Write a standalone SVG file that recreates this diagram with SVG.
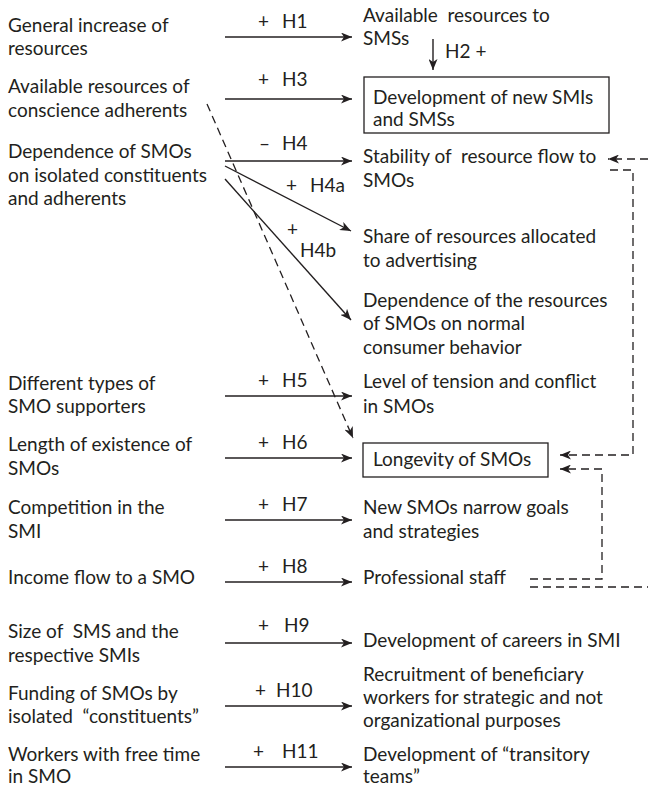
<svg xmlns="http://www.w3.org/2000/svg" width="648" height="787" viewBox="0 0 648 787">
  <style>
    text { font-family: Lato, "Open Sans", "Liberation Sans", sans-serif; font-size: 19px; fill: #231f20; }
    .ln { stroke: #231f20; stroke-width: 1.4; fill: none; }
    .dash { stroke: #231f20; stroke-width: 1.3; fill: none; stroke-dasharray: 8 5; }
    .box { stroke: #231f20; stroke-width: 1.3; fill: #fff; }
  </style>
  <defs>
    <marker id="arr" markerUnits="userSpaceOnUse" markerWidth="12" markerHeight="9" refX="11" refY="4.5" orient="auto">
      <path d="M0,0 L11,4.5 L0,9 L3,4.5 z" fill="#231f20"/>
    </marker>
  </defs>
  <rect width="648" height="787" fill="#fff"/>

  <!-- causes (left column) -->
  <g id="n-general-increase"><text x="8" y="32">General increase of</text><text x="8" y="55">resources</text></g>
  <g id="n-conscience"><text x="8" y="93">Available resources of</text><text x="8" y="117">conscience adherents</text></g>
  <g id="n-dependence"><text x="8" y="158">Dependence of SMOs</text><text x="8" y="182">on isolated constituents</text><text x="8" y="205">and adherents</text></g>
  <g id="n-types"><text x="8" y="390">Different types of</text><text x="8" y="413">SMO supporters</text></g>
  <g id="n-length"><text x="8" y="451">Length of existence of</text><text x="8" y="475">SMOs</text></g>
  <g id="n-competition"><text x="8" y="514">Competition in the</text><text x="8" y="538">SMI</text></g>
  <g id="n-income"><text x="8" y="584">Income flow to a SMO</text></g>
  <g id="n-size"><text x="8" y="638" xml:space="preserve">Size of  SMS and the</text><text x="8" y="662">respective SMIs</text></g>
  <g id="n-funding"><text x="8" y="700">Funding of SMOs by</text><text x="8" y="723" xml:space="preserve">isolated  “constituents”</text></g>
  <g id="n-workers"><text x="8" y="761">Workers with free time</text><text x="8" y="783">in SMO</text></g>

  <!-- effects (right column) -->
  <g id="n-available-sms"><text x="363" y="22" xml:space="preserve">Available  resources to</text><text x="363" y="45">SMSs</text></g>
  <g id="n-new-smis"><rect class="box" x="364" y="77" width="245" height="56"/><text x="373" y="104">Development of new SMIs</text><text x="373" y="126">and SMSs</text></g>
  <g id="n-stability"><text x="363" y="163" xml:space="preserve">Stability of  resource flow to</text><text x="363" y="187">SMOs</text></g>
  <g id="n-advertising"><text x="363" y="243">Share of resources allocated</text><text x="363" y="267">to advertising</text></g>
  <g id="n-consumer"><text x="363" y="307">Dependence of the resources</text><text x="363" y="330">of SMOs on normal</text><text x="363" y="354">consumer behavior</text></g>
  <g id="n-tension"><text x="363" y="388">Level of tension and conflict</text><text x="363" y="413">in SMOs</text></g>
  <g id="n-longevity"><rect class="box" x="363" y="443" width="185" height="34"/><text x="373" y="466">Longevity of SMOs</text></g>
  <g id="n-narrow"><text x="363" y="514">New SMOs narrow goals</text><text x="363" y="538">and strategies</text></g>
  <g id="n-staff"><text x="363" y="584">Professional staff</text></g>
  <g id="n-careers"><text x="363" y="647">Development of careers in SMI</text></g>
  <g id="n-recruitment"><text x="363" y="681">Recruitment of beneficiary</text><text x="363" y="704">workers for strategic and not</text><text x="363" y="727">organizational purposes</text></g>
  <g id="n-teams"><text x="363" y="761">Development of “transitory</text><text x="363" y="783">teams”</text></g>

  <!-- connectors -->
  <g id="connectors">
    <line class="ln" x1="225" y1="37" x2="352" y2="37" marker-end="url(#arr)"/>
    <line class="ln" x1="433" y1="39" x2="433" y2="70" marker-end="url(#arr)"/>
    <line class="ln" x1="225" y1="99" x2="352" y2="99" marker-end="url(#arr)"/>
    <line class="ln" x1="225" y1="161" x2="352" y2="161" marker-end="url(#arr)"/>
    <line class="ln" x1="225" y1="166" x2="351" y2="231" marker-end="url(#arr)"/>
    <line class="ln" x1="225" y1="179" x2="351" y2="320" marker-end="url(#arr)"/>
    <line class="ln" x1="225" y1="396" x2="352" y2="396" marker-end="url(#arr)"/>
    <line class="ln" x1="225" y1="458" x2="352" y2="458" marker-end="url(#arr)"/>
    <line class="ln" x1="225" y1="520" x2="352" y2="520" marker-end="url(#arr)"/>
    <line class="ln" x1="225" y1="582" x2="352" y2="582" marker-end="url(#arr)"/>
    <line class="ln" x1="225" y1="643" x2="352" y2="643" marker-end="url(#arr)"/>
    <line class="ln" x1="225" y1="706" x2="352" y2="706" marker-end="url(#arr)"/>
    <line class="ln" x1="225" y1="767" x2="352" y2="767" marker-end="url(#arr)"/>

    <!-- dashed links -->
    <line class="dash" x1="207" y1="104" x2="353" y2="438" marker-end="url(#arr)"/>
    <line class="dash" x1="648" y1="159" x2="608" y2="159" marker-end="url(#arr)"/>
    <polyline class="dash" points="610,170 633,170 633,455 560,455" marker-end="url(#arr)"/>
    <polyline class="dash" points="530,579 602,579 602,469 560,469" marker-end="url(#arr)"/>
    <line class="dash" x1="530" y1="587" x2="648" y2="587"/>

    <!-- hypothesis labels -->
    <g id="labels">
      <text x="258" y="28">+</text><text x="282" y="28">H1</text>
      <text x="445" y="58">H2 +</text>
      <text x="258" y="86">+</text><text x="282" y="86">H3</text>
      <text x="259" y="150">–</text><text x="282" y="150">H4</text>
      <text x="286" y="192">+</text><text x="310" y="192">H4a</text>
      <text x="287" y="236">+</text><text x="300" y="257">H4b</text>
      <text x="258" y="387">+</text><text x="282" y="387">H5</text>
      <text x="258" y="449">+</text><text x="282" y="449">H6</text>
      <text x="258" y="511">+</text><text x="282" y="511">H7</text>
      <text x="258" y="573">+</text><text x="282" y="573">H8</text>
      <text x="258" y="632">+</text><text x="284" y="632">H9</text>
      <text x="255" y="697">+</text><text x="276" y="697">H10</text>
      <text x="253" y="758">+</text><text x="282" y="758">H11</text>
    </g>
  </g>
</svg>
